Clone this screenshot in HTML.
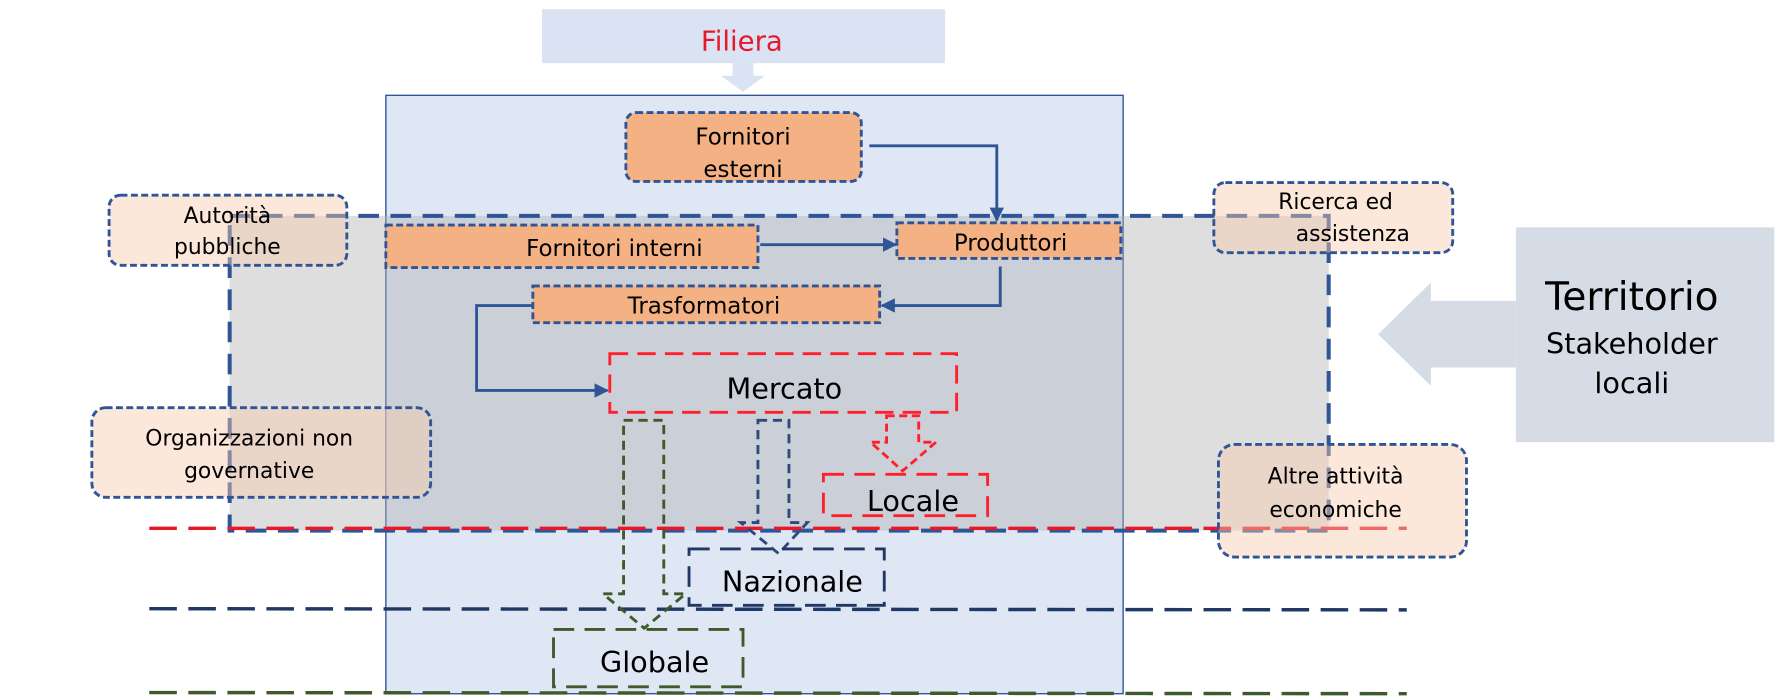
<!DOCTYPE html>
<html><head><meta charset="utf-8"><style>
html,body{margin:0;padding:0;background:#fff;width:1780px;height:696px;overflow:hidden}
svg{display:block}
text{font-family:"DejaVu Sans","Liberation Sans",sans-serif;fill:#000}
</style></head><body>
<svg width="1780" height="696" viewBox="0 0 1550 606" preserveAspectRatio="none" xmlns="http://www.w3.org/2000/svg">
<defs>
<marker id="ah" viewBox="0 0 10 10" refX="9" refY="5" markerWidth="5" markerHeight="5" orient="auto"><path d="M0,0L10,5L0,10z" fill="#2f5597"/></marker>
</defs>
<!-- Filiera -->
<rect x="472" y="8" width="351" height="47" fill="#dae3f3"/>
<text x="646" y="44" font-size="24" text-anchor="middle" style="fill:#e8182b">Filiera</text>
<path d="M638,55H656V66H666L647,80L628,66H638Z" fill="#dae3f3"/>
<!-- main box -->
<rect x="336" y="83" width="642" height="521" fill="#dfe7f5" stroke="#2f5597" stroke-width="1.2"/>
<!-- territory region -->
<rect x="200" y="188" width="957" height="274" fill="#b0b0b0" fill-opacity="0.42"/>
<rect x="200" y="188" width="957" height="274" fill="none" stroke="#2f5597" stroke-width="3.5" stroke-dasharray="18,10"/>
<!-- level lines -->
<line x1="130" y1="460" x2="1225" y2="460" stroke="#e8182b" stroke-width="3" stroke-dasharray="24,10"/>
<line x1="130" y1="530" x2="1225" y2="531" stroke="#203864" stroke-width="3" stroke-dasharray="24,10"/>
<line x1="130" y1="603" x2="1225" y2="604" stroke="#3f5a2a" stroke-width="3" stroke-dasharray="24,10"/>
<!-- Territorio arrow -->
<rect x="1320" y="198" width="225" height="187" fill="#d6dce5"/>
<path d="M1320,262H1246V246L1200,291L1246,336V320H1320Z" fill="#d6dce5"/>
<text x="1421" y="270" font-size="34" text-anchor="middle">Territorio</text>
<text x="1421" y="308" font-size="25" text-anchor="middle">Stakeholder</text>
<text x="1421" y="342" font-size="25" text-anchor="middle">locali</text>
<!-- filiera nodes -->
<g stroke="#2f5597" stroke-width="2.5" stroke-dasharray="6,3" fill="#f4b183">
<rect x="545" y="98" width="205" height="60" rx="9"/>
<rect x="336" y="196" width="324" height="37"/>
<rect x="781" y="194" width="195" height="31"/>
<rect x="464" y="249" width="302" height="32"/>
</g>
<text x="647" y="126" font-size="20" text-anchor="middle">Fornitori</text>
<text x="647" y="154" font-size="20" text-anchor="middle">esterni</text>
<text x="535" y="223" font-size="20" text-anchor="middle">Fornitori interni</text>
<text x="880" y="218" font-size="20" text-anchor="middle">Produttori</text>
<text x="613" y="273" font-size="20" text-anchor="middle">Trasformatori</text>
<!-- connectors -->
<g fill="none" stroke="#2f5597" stroke-width="2.5">
<path d="M757,127H868V192" marker-end="url(#ah)"/>
<path d="M662,213H780" marker-end="url(#ah)"/>
<path d="M871,232V266H768" marker-end="url(#ah)"/>
<path d="M463,266H415V340H529" marker-end="url(#ah)"/>
</g>
<!-- Mercato -->
<rect x="531" y="308" width="302" height="51" fill="none" stroke="#ff1f2d" stroke-width="2.5" stroke-dasharray="16,8"/>
<text x="683" y="347" font-size="25" text-anchor="middle">Mercato</text>
<!-- hollow arrows -->
<path d="M543,366H578V517H597L561,547L525,517H543Z" fill="none" stroke="#3f5a2a" stroke-width="2.5" stroke-dasharray="8,5"/>
<path d="M660,366H687V455H703L678,482L645,455H660Z" fill="none" stroke="#2f4a7a" stroke-width="2.5" stroke-dasharray="8,5"/>
<path d="M772,362H800V385H815L786,410L758,385H772Z" fill="none" stroke="#ff1f2d" stroke-width="2.5" stroke-dasharray="7,4"/>
<!-- levels -->
<rect x="717" y="413" width="143" height="36" fill="none" stroke="#ff1f2d" stroke-width="2.5" stroke-dasharray="18,9"/>
<text x="795" y="445" font-size="25" text-anchor="middle">Locale</text>
<rect x="600" y="478" width="170" height="49" fill="none" stroke="#203864" stroke-width="2.5" stroke-dasharray="18,9"/>
<text x="690" y="515" font-size="25" text-anchor="middle">Nazionale</text>
<rect x="482" y="548" width="165" height="50" fill="none" stroke="#3f5a2a" stroke-width="2.5" stroke-dasharray="18,9"/>
<text x="570" y="585" font-size="25" text-anchor="middle">Globale</text>
<!-- stakeholders -->
<g stroke="#2f5597" stroke-width="2.5" stroke-dasharray="6,3" fill="#f8cbad" fill-opacity="0.45">
<rect x="95" y="170" width="207" height="61" rx="10"/>
<rect x="80" y="355" width="295" height="78" rx="12"/>
<rect x="1057" y="159" width="208" height="61" rx="10"/>
<rect x="1061" y="387" width="216" height="98" rx="14"/>
</g>
<text x="198" y="194" font-size="19" text-anchor="middle">Autorità</text>
<text x="198" y="221" font-size="19" text-anchor="middle">pubbliche</text>
<text x="217" y="388" font-size="19" text-anchor="middle">Organizzazioni non</text>
<text x="217" y="416" font-size="19" text-anchor="middle">governative</text>
<text x="1163" y="182" font-size="19" text-anchor="middle">Ricerca ed</text>
<text x="1178" y="210" font-size="19" text-anchor="middle">assistenza</text>
<text x="1163" y="421" font-size="19" text-anchor="middle">Altre attività</text>
<text x="1163" y="450" font-size="19" text-anchor="middle">economiche</text>
</svg>
</body></html>
